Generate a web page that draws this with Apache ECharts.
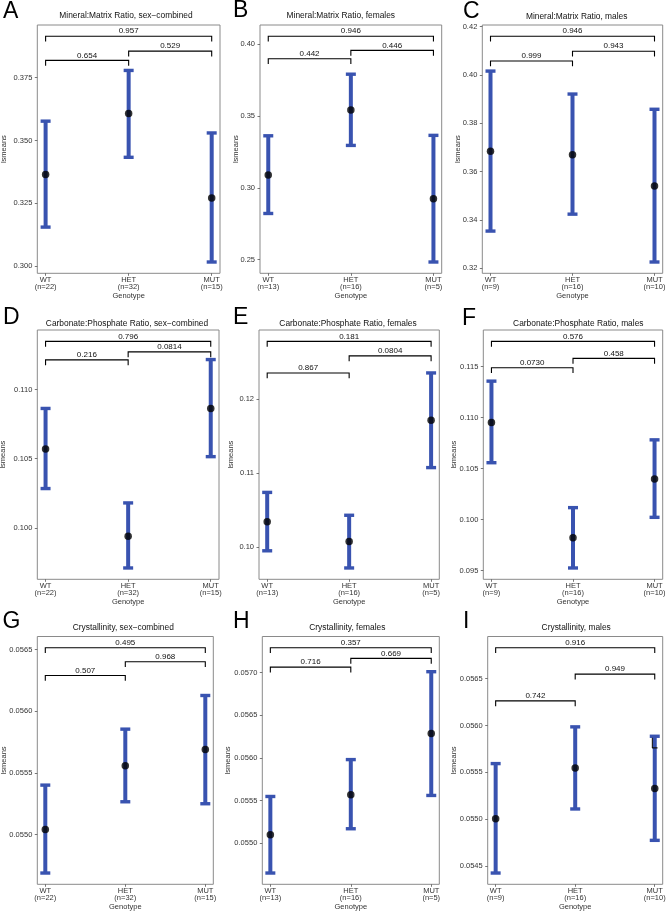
<!DOCTYPE html>
<html>
<head>
<meta charset="utf-8">
<script src="https://cdn.jsdelivr.net/npm/echarts@6/dist/echarts.min.js"></script>
<style>
html,body{margin:0;padding:0;background:#fff;}
#chart{width:669px;height:913px;}
</style>
</head>
<body>
<div id="chart"></div>
<script>
// ---------------- DATA ----------------
const categories = ['WT', 'HET', 'MUT'];
const nCombined = [22, 32, 15];
const nFemales = [13, 16, 5];
const nMales = [9, 16, 10];
const panelLetters = ['A', 'B', 'C', 'D', 'E', 'F', 'G', 'H', 'I'];
const panelTitles = [
  'Mineral:Matrix Ratio, sex\u2212combined', 'Mineral:Matrix Ratio, females', 'Mineral:Matrix Ratio, males',
  'Carbonate:Phosphate Ratio, sex\u2212combined', 'Carbonate:Phosphate Ratio, females', 'Carbonate:Phosphate Ratio, males',
  'Crystallinity, sex\u2212combined', 'Crystallinity, females', 'Crystallinity, males'
];
const xTitle = 'Genotype';
const yTitle = 'lsmeans';
// bracket pairs: WT-HET, HET-MUT, WT-MUT
const bracketPairs = [[0, 1], [1, 2], [0, 2]];

// A: Mineral:Matrix, combined
const meanA = [0.3365, 0.3607, 0.3271];
const lowA = [0.3155, 0.3433, 0.3016];
const highA = [0.3577, 0.3779, 0.3530];
const pA = ['0.654', '0.529', '0.957'];
const bracketYA = [0.3819, 0.3856, 0.3915];
const ticksA = [0.300, 0.325, 0.350, 0.375];
// B: Mineral:Matrix, females
const meanB = [0.3090, 0.3542, 0.2924];
const lowB = [0.2822, 0.3296, 0.2484];
const highB = [0.3363, 0.3792, 0.3366];
const pB = ['0.442', '0.446', '0.946'];
const bracketYB = [0.3900, 0.3958, 0.4056];
const ticksB = [0.25, 0.30, 0.35, 0.40];
// C: Mineral:Matrix, males
const meanC = [0.3684, 0.3670, 0.3541];
const lowC = [0.3354, 0.3424, 0.3226];
const highC = [0.4016, 0.3921, 0.3858];
const pC = ['0.999', '0.943', '0.946'];
const bracketYC = [0.4058, 0.4098, 0.4160];
const ticksC = [0.32, 0.34, 0.36, 0.38, 0.40, 0.42];
// D: Carbonate:Phosphate, combined
const meanD = [0.10570, 0.09939, 0.10864];
const lowD = [0.10284, 0.09709, 0.10515];
const highD = [0.10864, 0.10180, 0.11218];
const pD = ['0.216', '0.0814', '0.796'];
const bracketYD = [0.11216, 0.11274, 0.11350];
const ticksD = [0.100, 0.105, 0.110];
// E: Carbonate:Phosphate, females
const meanE = [0.10340, 0.10073, 0.11710];
const lowE = [0.09946, 0.09714, 0.11070];
const highE = [0.10735, 0.10426, 0.12349];
const pE = ['0.867', '0.0804', '0.181'];
const bracketYE = [0.12349, 0.12580, 0.12776];
const ticksE = [0.10, 0.11, 0.12];
// F: Carbonate:Phosphate, males
const meanF = [0.10952, 0.09822, 0.10397];
const lowF = [0.10557, 0.09526, 0.10022];
const highF = [0.11356, 0.10117, 0.10781];
const pF = ['0.0730', '0.458', '0.576'];
const bracketYF = [0.11487, 0.11579, 0.11746];
const ticksF = [0.095, 0.100, 0.105, 0.110, 0.115];
// G: Crystallinity, combined
const meanG = [0.055040, 0.055557, 0.055689];
const lowG = [0.054687, 0.055265, 0.055249];
const highG = [0.055400, 0.055854, 0.056127];
const pG = ['0.507', '0.968', '0.495'];
const bracketYG = [0.056289, 0.056400, 0.056514];
const ticksG = [0.0550, 0.0555, 0.0560, 0.0565];
// H: Crystallinity, females
const meanH = [0.055098, 0.055566, 0.056285];
const lowH = [0.054648, 0.055168, 0.055559];
const highH = [0.055547, 0.055980, 0.057012];
const pH = ['0.716', '0.669', '0.357'];
const bracketYH = [0.057066, 0.057168, 0.057293];
const ticksH = [0.0550, 0.0555, 0.0560, 0.0565, 0.0570];
// I: Crystallinity, males
const meanI = [0.055008, 0.055548, 0.055328];
const lowI = [0.054429, 0.055111, 0.054777];
const highI = [0.055594, 0.055985, 0.055885];
const pI = ['0.742', '0.949', '0.916'];
const bracketYI = [0.056262, 0.056546, 0.056827];
const ticksI = [0.0545, 0.0550, 0.0555, 0.0560, 0.0565];
// stray black mark near MUT in panel I
const strayMarkI = [[1.97, 0.055870], [1.97, 0.055761], [2.035, 0.055761]];

// ---------------- BUILD ----------------
const panels = [
  {mean: meanA, low: lowA, high: highA, p: pA, by: bracketYA, ticks: ticksA, n: nCombined, dec: 3},
  {mean: meanB, low: lowB, high: highB, p: pB, by: bracketYB, ticks: ticksB, n: nFemales, dec: 2},
  {mean: meanC, low: lowC, high: highC, p: pC, by: bracketYC, ticks: ticksC, n: nMales, dec: 2},
  {mean: meanD, low: lowD, high: highD, p: pD, by: bracketYD, ticks: ticksD, n: nCombined, dec: 3},
  {mean: meanE, low: lowE, high: highE, p: pE, by: bracketYE, ticks: ticksE, n: nFemales, dec: 2},
  {mean: meanF, low: lowF, high: highF, p: pF, by: bracketYF, ticks: ticksF, n: nMales, dec: 3},
  {mean: meanG, low: lowG, high: highG, p: pG, by: bracketYG, ticks: ticksG, n: nCombined, dec: 4},
  {mean: meanH, low: lowH, high: highH, p: pH, by: bracketYH, ticks: ticksH, n: nFemales, dec: 4},
  {mean: meanI, low: lowI, high: highI, p: pI, by: bracketYI, ticks: ticksI, n: nMales, dec: 4}
];

// layout (pixels): [left, top, width, height]
const gridBoxes = [
  [37.3, 25, 182.7, 248.3], [260, 25, 181.7, 248.3], [482.3, 25, 180.4, 248.3],
  [37.3, 330, 181.7, 249.3], [259, 330, 180.3, 249.3], [483.3, 330, 179.4, 249.3],
  [37.3, 636.5, 176, 247.8], [262.3, 636.5, 177, 247.8], [487.7, 636.5, 175, 247.8]
];
// distance from left plot edge to the centre of the rotated y title
const yTitleDist = [33.3, 24.5, 24.5, 34.5, 28, 29.5, 33.3, 34.8, 33.5];
const titlePos = [
  [126, 15.7], [340.8, 15.7], [576.7, 16.3],
  [127, 324], [348, 324], [578.3, 324],
  [123.3, 627.7], [347.3, 627.7], [576.2, 627.7]
];
const letterPos = [
  [3, 12], [233, 11], [463, 11.5],
  [3, 318], [233, 318], [462, 318.5],
  [2.5, 621.5], [233, 621.5], [463, 621.5]
];

const FONT = '"Liberation Sans", Arial, Helvetica, sans-serif';
const BLUE = '#3953b0';
const AXIS_TEXT = '#333333';

const grids = [], xAxes = [], yAxes = [], series = [], graphics = [];

panels.forEach((pn, i) => {
  const b = gridBoxes[i];
  grids.push({left: b[0], top: b[1], width: b[2], height: b[3], show: true,
    borderColor: '#8a8a8a', borderWidth: 1, backgroundColor: 'transparent', containLabel: false});

  xAxes.push({
    gridIndex: i, type: 'value', min: -0.1, max: 2.1, position: 'bottom',
    name: xTitle, nameLocation: 'middle', nameGap: 18.5,
    nameTextStyle: {fontFamily: FONT, fontSize: 7.5, color: AXIS_TEXT, lineHeight: 8},
    axisLine: {show: false, onZero: false}, splitLine: {show: false},
    axisTick: {show: true, inside: false, length: 2.5, customValues: [0, 1, 2], lineStyle: {color: '#555', width: 0.8}},
    axisLabel: {show: true, customValues: [0, 1, 2], margin: 3.5, fontFamily: FONT, fontSize: 7.5,
      lineHeight: 7, color: AXIS_TEXT,
      formatter: v => { const k = Math.round(v); return categories[k] + '\n(n=' + pn.n[k] + ')'; }}
  });

  const lo = Math.min(...pn.low), hi = Math.max(...pn.by);
  const r = hi - lo;
  yAxes.push({
    gridIndex: i, type: 'value', min: lo - 0.05 * r, max: hi + 0.05 * r, position: 'left',
    axisLine: {show: false, onZero: false}, splitLine: {show: false},
    axisTick: {show: true, inside: false, length: 2.5, customValues: pn.ticks, lineStyle: {color: '#555', width: 0.8}},
    axisLabel: {show: true, customValues: pn.ticks, margin: 5, fontFamily: FONT, fontSize: 7.5, color: AXIS_TEXT,
      formatter: v => Number(v).toFixed(pn.dec)}
  });

  // error bars
  series.push({
    type: 'custom', xAxisIndex: i, yAxisIndex: i, z: 2,
    data: categories.map((c, k) => [k, pn.low[k], pn.high[k]]),
    encode: {x: 0, y: [1, 2]},
    renderItem: (params, api) => {
      const x = api.value(0);
      const pl = api.coord([x, api.value(1)]);
      const ph = api.coord([x, api.value(2)]);
      const cap = 5;
      return {type: 'group', children: [
        {type: 'line', shape: {x1: pl[0], y1: pl[1], x2: ph[0], y2: ph[1]}, style: {stroke: BLUE, lineWidth: 4}},
        {type: 'line', shape: {x1: ph[0] - cap, y1: ph[1], x2: ph[0] + cap, y2: ph[1]}, style: {stroke: BLUE, lineWidth: 3.4}},
        {type: 'line', shape: {x1: pl[0] - cap, y1: pl[1], x2: pl[0] + cap, y2: pl[1]}, style: {stroke: BLUE, lineWidth: 3.4}}
      ]};
    }
  });

  // means
  series.push({
    type: 'scatter', xAxisIndex: i, yAxisIndex: i, z: 3,
    symbol: 'circle', symbolSize: 7.5, itemStyle: {color: '#000'},
    data: categories.map((c, k) => [k, pn.mean[k]])
  });

  // significance brackets
  const labels = pn.p;
  series.push({
    type: 'custom', xAxisIndex: i, yAxisIndex: i, z: 4,
    data: bracketPairs.map((pr, k) => [pr[0], pr[1], pn.by[k]]),
    encode: {x: [0, 1], y: 2},
    renderItem: (params, api) => {
      const y = api.value(2);
      const a = api.coord([api.value(0), y]);
      const c = api.coord([api.value(1), y]);
      const drop = 5.3;
      return {type: 'group', children: [
        {type: 'polyline', shape: {points: [[a[0], a[1] + drop], [a[0], a[1]], [c[0], c[1]], [c[0], c[1] + drop]]},
          style: {stroke: '#000', lineWidth: 1.1, fill: null}},
        {type: 'text', x: (a[0] + c[0]) / 2, y: a[1] - 1,
          style: {text: labels[params.dataIndex], align: 'center', verticalAlign: 'bottom',
            fontFamily: FONT, fontSize: 8, fill: '#111'}}
      ]};
    }
  });

  graphics.push({type: 'text', x: titlePos[i][0], y: titlePos[i][1],
    style: {text: panelTitles[i], align: 'center', verticalAlign: 'middle', fontFamily: FONT, fontSize: 8.4, fill: '#111'}});
  graphics.push({type: 'text', x: letterPos[i][0], y: letterPos[i][1],
    style: {text: panelLetters[i], align: 'left', verticalAlign: 'middle', fontFamily: FONT, fontSize: 23, fill: '#000'}});
  // rotated y-axis title
  graphics.push({type: 'text', x: b[0] - yTitleDist[i], y: b[1] + b[3] / 2, rotation: Math.PI / 2,
    style: {text: yTitle, align: 'center', verticalAlign: 'middle', fontFamily: FONT, fontSize: 7.5, fill: AXIS_TEXT}});
});

series.push({
  type: 'line', xAxisIndex: 8, yAxisIndex: 8, z: 5, symbol: 'none', silent: true,
  lineStyle: {color: '#111', width: 1.1}, data: strayMarkI
});

const chart = echarts.init(document.getElementById('chart'), null, {renderer: 'canvas', width: 669, height: 913});
chart.setOption({
  backgroundColor: '#fff',
  animation: false,
  grid: grids, xAxis: xAxes, yAxis: yAxes, series: series,
  graphic: graphics
});
</script>
</body>
</html>
